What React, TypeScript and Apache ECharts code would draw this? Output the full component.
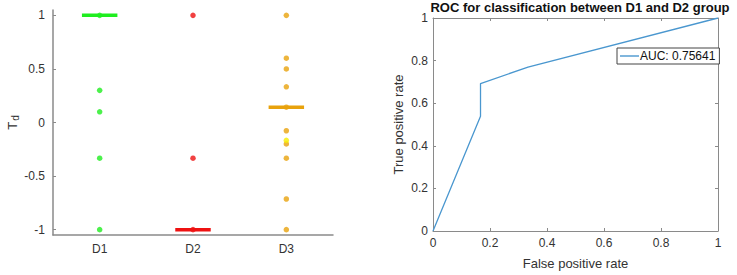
import React, { useEffect, useRef } from "react";
import * as echarts from "echarts";

const categories = ["D1", "D2", "D3"];
const d1Values = [1, 0.3, 0.1, -0.333, -1];
const d2Values = [1, -0.333, -1];
const d3Values = [1, 0.6, 0.5, 0.333, 0.143, -0.077, -0.2, -0.333, -0.714, -1];
const d3Highlight = [-0.167];
const medians = [1, -1, 0.143];
const groupColors = ["#1fee1f", "#ee1111", "#e8a20c"];
const highlightColor = "#f6ee00";
const yTicksLeft = [-1, -0.5, 0, 0.5, 1];

const rocFpr = [0, 0.1667, 0.1667, 0.3333, 1];
const rocTpr = [0, 0.5385, 0.6923, 0.7692, 1];
const aucLabel = "AUC: 0.75641";
const rocTitle = "ROC for classification between D1 and D2 group";

const FONT = "Liberation Sans, Arial, sans-serif";
const AXIS = "#8a8a8a";
const TXT = "#333333";

export default function App() {
  const ref = useRef<HTMLDivElement>(null);
  useEffect(() => {
    if (!ref.current) return;
    const chart = echarts.init(ref.current, null, { renderer: "svg" });
    const groups = [d1Values, d2Values, d3Values];
    const scatterSeries: any[] = groups.map((vals, gi) => ({
      type: "scatter",
      xAxisIndex: 1,
      yAxisIndex: 0,
      symbolSize: 5.5,
      itemStyle: { color: groupColors[gi] },
      data: vals.map((v) => [gi + 1, v]),
      z: 3,
    }));
    scatterSeries.push({
      type: "scatter",
      xAxisIndex: 1,
      yAxisIndex: 0,
      symbolSize: 5.5,
      itemStyle: { color: highlightColor },
      data: d3Highlight.map((v) => [3, v]),
      z: 4,
    });
    const medianSeries = medians.map((m, gi) => ({
      type: "line",
      xAxisIndex: 1,
      yAxisIndex: 0,
      symbol: "none",
      lineStyle: { color: groupColors[gi], width: 3.5 },
      data: [
        [gi + 1 - 0.19, m],
        [gi + 1 + 0.19, m],
      ],
      z: 2,
    }));

    const option: any = {
      animation: false,
      textStyle: { fontFamily: FONT },
      graphic: [
        {
          type: "text",
          x: 580,
          y: 7,
          style: {
            text: rocTitle,
            align: "center",
            verticalAlign: "middle",
            fontSize: 13,
            fontWeight: "bold",
            fill: "#111",
            fontFamily: FONT,
          },
        },
      ],
      legend: {
        left: 617,
        top: 48,
        data: [{ name: aucLabel, icon: "rect" }],
        borderColor: "#444",
        borderWidth: 1,
        borderRadius: 0,
        backgroundColor: "#fff",
        padding: [2, 4, 2, 3],
        itemWidth: 19,
        itemHeight: 1.4,
        itemGap: 2,
        textStyle: { fontSize: 12, color: "#111", fontFamily: FONT, padding: [0, 0, 0, -4] },
      },
      grid: [
        { left: 53, top: 10, width: 280, height: 225 },
        { left: 433, top: 18, width: 285, height: 215 },
      ],
      xAxis: [
        {
          gridIndex: 0,
          type: "category",
          data: categories,
          boundaryGap: true,
          axisLine: { onZero: false, lineStyle: { color: AXIS, width: 1.5 } },
          axisTick: { inside: true, alignWithLabel: true, length: 3, lineStyle: { color: AXIS } },
          axisLabel: { color: TXT, fontSize: 12, margin: 8 },
        },
        {
          gridIndex: 0,
          type: "value",
          min: 0.5,
          max: 3.5,
          show: false,
        },
        {
          gridIndex: 1,
          type: "value",
          min: 0,
          max: 1,
          interval: 0.2,
          name: "False positive rate",
          nameLocation: "middle",
          nameGap: 26,
          nameTextStyle: { fontSize: 13, color: TXT },
          splitLine: { show: false },
          axisLine: { onZero: false, lineStyle: { color: AXIS } },
          axisTick: { inside: true, length: 3, lineStyle: { color: AXIS } },
          axisLabel: { color: TXT, fontSize: 12, margin: 6 },
        },
        {
          gridIndex: 1,
          type: "value",
          position: "top",
          min: 0,
          max: 1,
          interval: 0.2,
          splitLine: { show: false },
          axisLine: { onZero: false, lineStyle: { color: AXIS } },
          axisTick: { inside: true, length: 3, lineStyle: { color: AXIS } },
          axisLabel: { show: false },
        },
      ],
      yAxis: [
        {
          gridIndex: 0,
          type: "value",
          min: -1.05,
          max: 1.05,
          name: "{t|T}{s|d}",
          nameLocation: "middle",
          nameGap: 33,
          nameRotate: 90,
          nameTextStyle: {
            rich: {
              t: { fontSize: 13, color: TXT, fontFamily: FONT },
              s: { fontSize: 10, color: TXT, fontFamily: FONT, verticalAlign: "bottom", padding: [6, 0, 0, 1] },
            },
          },
          splitLine: { show: false },
          axisLine: { show: true, onZero: false, lineStyle: { color: AXIS, width: 1.5 } },
          axisTick: { show: true, inside: true, length: 3, customValues: yTicksLeft, lineStyle: { color: AXIS } },
          axisLabel: {
            color: TXT,
            fontSize: 12,
            margin: 8,
            customValues: yTicksLeft,
            formatter: (v: number) => String(v),
          },
        },
        {
          gridIndex: 1,
          type: "value",
          min: 0,
          max: 1,
          interval: 0.2,
          name: "True positive rate",
          nameLocation: "middle",
          nameGap: 28,
          nameTextStyle: { fontSize: 13, color: TXT },
          splitLine: { show: false },
          axisLine: { show: true, onZero: false, lineStyle: { color: AXIS } },
          axisTick: { show: true, inside: true, length: 3, lineStyle: { color: AXIS } },
          axisLabel: { color: TXT, fontSize: 12, margin: 5 },
        },
        {
          gridIndex: 1,
          type: "value",
          position: "right",
          min: 0,
          max: 1,
          interval: 0.2,
          splitLine: { show: false },
          axisLine: { show: true, onZero: false, lineStyle: { color: AXIS } },
          axisTick: { show: true, inside: true, length: 3, lineStyle: { color: AXIS } },
          axisLabel: { show: false },
        },
      ],
      series: [
        ...medianSeries,
        ...scatterSeries,
        {
          name: aucLabel,
          type: "line",
          xAxisIndex: 2,
          yAxisIndex: 1,
          symbol: "none",
          showSymbol: false,
          lineStyle: { color: "#4a97cf", width: 1.3 },
          itemStyle: { color: "#4a97cf" },
          data: rocFpr.map((x, i) => [x, rocTpr[i]]),
        },
      ],
    };
    chart.setOption(option);
    return () => chart.dispose();
  }, []);
  return (
    <div
      ref={ref}
      style={{ position: "fixed", left: 0, top: 0, width: 737, height: 275, background: "#fff" }}
    />
  );
}
